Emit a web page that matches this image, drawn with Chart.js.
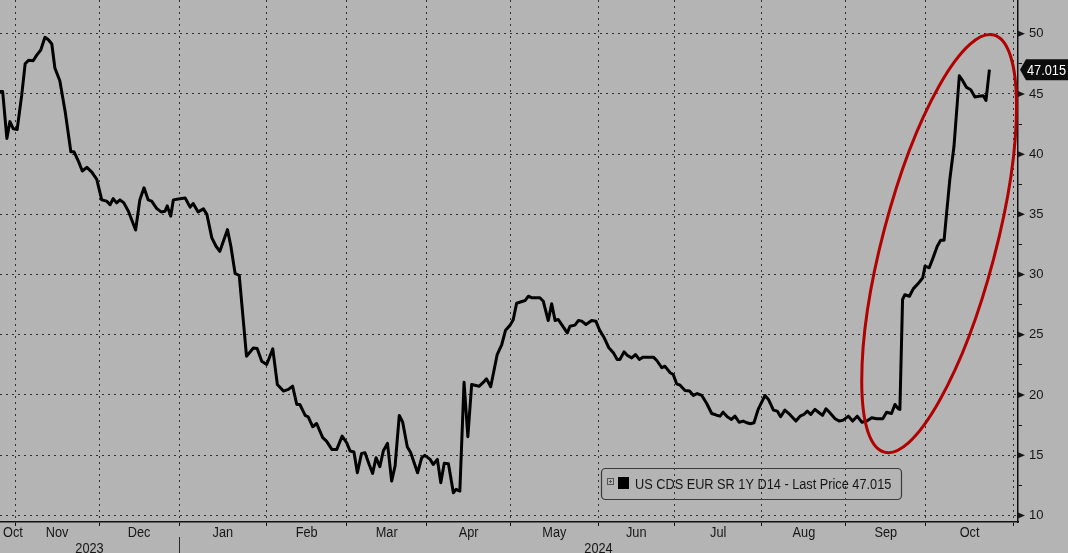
<!DOCTYPE html>
<html>
<head>
<meta charset="utf-8">
<script src="https://cdn.jsdelivr.net/npm/chart.js@4.4.1/dist/chart.umd.min.js"></script>
<style>
  html, body { margin: 0; padding: 0; background: #b4b4b4; }
  #wrap { width: 1068px; height: 553px; }
</style>
</head>
<body>
<div id="wrap"><canvas id="cds" width="1068" height="553"></canvas></div>
<script>
// x = weekday index, 0 = Thu 26 Oct 2023
const days = [
  0, 0.7, 1.8, 2.6, 3.5, 4.5, 5.7, 6.6, 7.5, 8.7, 9.6, 10.7, 11.8, 12.7, 13.6, 14.4, 15.7, 17.1, 18.6, 19.4,
  20.6, 21.6, 22.8, 24.1, 25.4, 26.7, 28.0, 28.9, 29.7, 30.6, 31.5, 32.5, 33.7, 35.6, 36.7, 37.8, 38.9, 39.8, 41.1, 42.3,
  43.3, 43.9, 44.8, 45.5, 47.2, 48.6, 49.9, 50.7, 52.0, 53.4, 54.3, 55.6, 56.7, 57.7, 59.7, 60.6, 61.7, 62.8, 64.7, 66.5,
  67.5, 68.7, 70.0, 71.6, 72.8, 74.4, 75.7, 76.8, 77.9, 78.7, 80.1, 80.9, 82.1, 83.1, 84.7, 85.7, 87.1, 88.4, 89.8, 91.0,
  91.9, 92.9, 93.8, 94.9, 95.8, 96.9, 97.8, 98.7, 99.7, 100.6, 101.7, 102.8, 103.7, 104.8, 105.7, 106.9, 107.8, 108.7, 109.6, 110.7,
  111.5, 112.9, 113.7, 114.8, 115.7, 116.6, 117.7, 119.0, 119.7, 120.7, 121.8, 122.8, 123.8, 124.9, 125.8, 126.9, 127.7, 128.8, 129.5, 130.5,
  131.7, 132.7, 133.9, 134.7, 135.6, 137.2, 137.8, 138.7, 139.6, 141.7, 142.6, 143.9, 144.8, 145.7, 146.5, 147.7, 148.9, 149.6, 150.9, 151.8,
  152.7, 153.8, 155.3, 156.4, 157.3, 158.5, 159.8, 161.0, 162.0, 162.7, 163.8, 164.6, 165.8, 166.8, 167.8, 168.8, 171.5, 172.4, 173.7, 174.5,
  175.9, 176.7, 177.6, 178.5, 179.8, 181.0, 182.0, 183.0, 184.2, 185.5, 186.8, 188.1, 189.0, 189.8, 190.9, 192.0, 192.9, 194.0, 195.1, 196.0,
  197.0, 197.9, 199.0, 200.8, 201.7, 203.0, 204.0, 204.9, 206.0, 207.3, 208.9, 210.0, 211.0, 211.9, 212.8, 213.9, 215.0, 215.9, 216.8, 217.7,
  219.2, 220.3, 221.3, 222.7, 223.8, 225.0, 226.2, 227.5, 228.8, 230.1, 231.7, 232.7, 234.0, 234.9, 235.8, 236.2, 236.9, 237.5, 238.7, 239.7,
  241.0, 242.2, 242.8, 243.9, 245.0, 246.0, 246.9, 247.8, 248.3, 249.3, 250.4, 251.8, 252.8, 253.7, 254.8, 255.9, 257.0, 258.1, 258.8, 259.7
];
const values = [
  45.2, 45.2, 41.3, 42.7, 42.1, 42.05, 44.9, 47.5, 47.8, 47.75, 48.2, 48.65, 49.7, 49.5, 49.15, 47.15, 46.1, 43.55, 40.2, 40.2,
  39.4, 38.6, 38.9, 38.5, 37.9, 36.2, 36.1, 35.8, 36.3, 35.95, 36.2, 35.95, 35.25, 33.7, 36.2, 37.2, 36.2, 36.1, 35.5, 35.2,
  35.25, 35.7, 34.85, 36.2, 36.3, 36.35, 35.6, 35.9, 35.2, 35.45, 35.0, 33.05, 32.35, 31.93, 33.73, 32.35, 30.1, 29.92, 23.22, 23.9,
  23.85, 22.8, 22.53, 23.83, 20.87, 20.32, 20.46, 20.73, 19.21, 19.21, 18.3, 18.19, 17.36, 17.63, 16.45, 16.17, 15.48, 15.48, 16.58, 16.03,
  15.34, 15.26, 13.54, 15.15, 15.2, 14.23, 13.49, 14.79, 14.04, 15.34, 15.98, 12.85, 14.1, 18.3, 17.74, 15.7, 15.2, 14.37, 13.54, 14.79,
  14.98, 14.65, 14.23, 14.65, 12.71, 14.32, 14.29, 11.88, 12.16, 12.02, 21.06, 16.53, 20.87, 20.79, 20.73, 21.06, 21.34, 20.68, 21.78, 23.36,
  24.19, 25.38, 25.8, 26.25, 27.62, 27.78, 27.84, 28.2, 28.07, 28.07, 27.78, 26.18, 27.57, 26.18, 26.27, 25.71, 25.16, 25.71, 25.8, 26.18,
  26.13, 25.85, 26.18, 26.13, 25.44, 24.8, 23.92, 23.5, 22.95, 22.95, 23.58, 23.3, 23.08, 23.36, 22.95, 23.14, 23.14, 22.86, 22.26, 22.39,
  21.84, 21.7, 20.93, 20.81, 20.37, 20.32, 19.96, 20.12, 19.96, 19.29, 18.46, 18.32, 18.24, 18.57, 18.19, 17.97, 18.24, 17.74, 17.83, 17.69,
  17.61, 17.69, 18.8, 19.96, 19.63, 18.74, 18.66, 18.19, 18.74, 18.38, 17.83, 18.24, 18.38, 18.66, 18.38, 18.8, 18.52, 18.3, 18.85, 18.57,
  18.02, 17.83, 17.91, 18.24, 17.83, 18.24, 17.74, 17.83, 18.1, 18.02, 18.02, 18.57, 18.46, 19.21, 18.85, 18.8, 27.93, 28.32, 28.2, 28.81,
  29.25, 29.73, 30.7, 30.56, 31.47, 32.35, 32.85, 32.85, 34.56, 37.88, 40.65, 46.51, 46.04, 45.54, 45.35, 44.75, 44.8, 44.85, 44.46, 47.015
];
const monthStarts = [-18, 4, 26, 47, 70, 91, 112, 134, 157, 177, 200, 222, 243, 266];
const monthLabels = ["Oct", "Nov", "Dec", "Jan", "Feb", "Mar", "Apr", "May", "Jun", "Jul", "Aug", "Sep", "Oct"];
const yearBreaks = [47];
const yearLabels = ["2023", "2024"];
const yTicks = [10, 12.5, 15, 17.5, 20, 22.5, 25, 27.5, 30, 32.5, 35, 37.5, 40, 42.5, 45, 47.5, 50];
const seriesName = "US CDS EUR SR 1Y D14 - Last Price";
const lastPrice = values[values.length - 1];

const FONT = '14px "Liberation Sans", Arial, sans-serif';
const SQUEEZE = 0.91;
const TEXT = '#161616';

function narrowText(ctx, text, x, y, align, color) {
  ctx.save();
  ctx.font = FONT;
  ctx.fillStyle = color || TEXT;
  ctx.textBaseline = 'alphabetic';
  const w = ctx.measureText(text).width * SQUEEZE;
  const left = align === 'center' ? x - w / 2 : x;
  ctx.translate(left, y);
  ctx.scale(SQUEEZE, 1);
  ctx.fillText(text, 0, 0);
  ctx.restore();
  return w;
}
function textWidth(ctx, text) {
  ctx.save();
  ctx.font = FONT;
  const w = ctx.measureText(text).width * SQUEEZE;
  ctx.restore();
  return w;
}

const decor = {
  id: 'decor',
  afterDatasetsDraw(chart) {
    // red ring round the latest jump
    const { ctx, scales: { x, y } } = chart;
    ctx.save();
    ctx.strokeStyle = '#b10000';
    ctx.lineWidth = 3;
    ctx.beginPath();
    ctx.ellipse(x.getPixelForValue(246.5), y.getPixelForValue(32.57), 215.6, 56.6, -75.3 * Math.PI / 180, 0, Math.PI * 2);
    ctx.stroke();
    ctx.restore();
  },
  afterDraw(chart) {
    const { ctx, chartArea: area, scales: { x, y } } = chart;

    // month labels, centred in each month
    for (let i = 0; i < monthLabels.length; i++) {
      const w = textWidth(ctx, monthLabels[i]);
      let cx = x.getPixelForValue((monthStarts[i] + monthStarts[i + 1]) / 2);
      cx = Math.max(cx, area.left + 3 + w / 2);
      narrowText(ctx, monthLabels[i], cx, 537, 'center');
    }

    // years
    const edges = [x.min, ...yearBreaks, x.max];
    for (let i = 0; i < yearLabels.length; i++) {
      const cx = (x.getPixelForValue(edges[i]) + x.getPixelForValue(edges[i + 1])) / 2;
      narrowText(ctx, yearLabels[i], cx, 553, 'center');
    }
    ctx.save();
    ctx.strokeStyle = '#2a2a2a';
    ctx.lineWidth = 1;
    yearBreaks.forEach(b => {
      const px = Math.round(x.getPixelForValue(b)) + 0.5;
      ctx.beginPath();
      ctx.moveTo(px, 537);
      ctx.lineTo(px, 553);
      ctx.stroke();
    });
    ctx.restore();

    // arrow marks on the right axis
    ctx.save();
    ctx.fillStyle = TEXT;
    yTicks.filter(v => v % 5 === 0).forEach(v => {
      const py = y.getPixelForValue(v);
      ctx.beginPath();
      ctx.moveTo(area.right, py - 3);
      ctx.lineTo(area.right + 7, py);
      ctx.lineTo(area.right, py + 3);
      ctx.closePath();
      ctx.fill();
    });
    ctx.restore();

    // last price tag
    const ty = y.getPixelForValue(lastPrice);
    ctx.save();
    ctx.fillStyle = '#0c0c0c';
    ctx.beginPath();
    ctx.moveTo(area.right + 2, ty);
    ctx.lineTo(area.right + 8, ty - 10.5);
    ctx.lineTo(1068, ty - 10.5);
    ctx.lineTo(1068, ty + 10.5);
    ctx.lineTo(area.right + 8, ty + 10.5);
    ctx.closePath();
    ctx.fill();
    ctx.restore();
    narrowText(ctx, lastPrice.toFixed(3), area.right + 9, ty + 5, 'left', '#ffffff');

    // legend box
    const bx = 601, by = 468, bw = 300, bh = 31;
    ctx.save();
    ctx.strokeStyle = '#3a3a3a';
    ctx.lineWidth = 1.2;
    ctx.beginPath();
    ctx.roundRect(bx + 0.5, by + 0.5, bw, bh, 4);
    ctx.stroke();
    ctx.strokeStyle = '#555';
    ctx.lineWidth = 1;
    ctx.strokeRect(607.5, 478.5, 6, 6);
    ctx.fillStyle = '#555';
    ctx.fillRect(609, 481, 3, 1);
    ctx.fillRect(610, 480, 1, 3);
    ctx.fillStyle = '#000';
    ctx.fillRect(618, 477, 11, 12);
    ctx.restore();
    narrowText(ctx, seriesName + ' ' + lastPrice.toFixed(3), 635, 489, 'left');
  }
};

new Chart(document.getElementById('cds'), {
  type: 'line',
  data: {
    datasets: [{
      label: seriesName,
      data: days.map((d, i) => ({ x: d, y: values[i] })),
      borderColor: '#000000',
      borderWidth: 3,
      borderJoinStyle: 'round',
      pointRadius: 0,
      tension: 0,
    }],
  },
  options: {
    responsive: false,
    animation: false,
    devicePixelRatio: 1,
    layout: { padding: 0, autoPadding: false },
    plugins: { legend: { display: false }, tooltip: { enabled: false } },
    scales: {
      x: {
        type: 'linear',
        min: 0,
        max: 267.2,
        afterBuildTicks: (s) => {
          s.ticks = monthStarts.filter(v => v >= s.min && v <= s.max).map(v => ({ value: v }));
        },
        afterFit: (s) => {
          s.height = 31;
          s.paddingLeft = 0;
          s.paddingRight = 0;
        },
        ticks: { display: false },
        grid: { color: 'rgba(25,25,25,0.85)', lineWidth: 1, tickLength: 4, tickColor: '#111' },
        border: { display: true, color: '#111', width: 1.5, dash: [2, 4] },
      },
      y: {
        type: 'linear',
        position: 'right',
        min: 9.45,
        max: 52.8,
        afterBuildTicks: (s) => { s.ticks = yTicks.map(v => ({ value: v })); },
        afterFit: (s) => {
          s.width = 50;
          s.paddingTop = 0;
          s.paddingBottom = 0;
        },
        ticks: {
          autoSkip: false,
          padding: 7,
          color: TEXT,
          font: { family: '"Liberation Sans", Arial, sans-serif', size: 13 },
          callback: (v) => (v % 5 === 0 ? String(v) : ''),
        },
        grid: {
          color: (c) => (c.tick && c.tick.value % 5 === 0 ? 'rgba(25,25,25,0.85)' : 'rgba(0,0,0,0)'),
          lineWidth: 1,
          tickLength: 4,
          tickColor: (c) => (c.tick && c.tick.value % 5 === 0 ? 'rgba(0,0,0,0)' : '#111'),
        },
        border: { display: true, color: '#111', width: 1.5, dash: [2, 4] },
      },
    },
  },
  plugins: [decor],
});
</script>
</body>
</html>
